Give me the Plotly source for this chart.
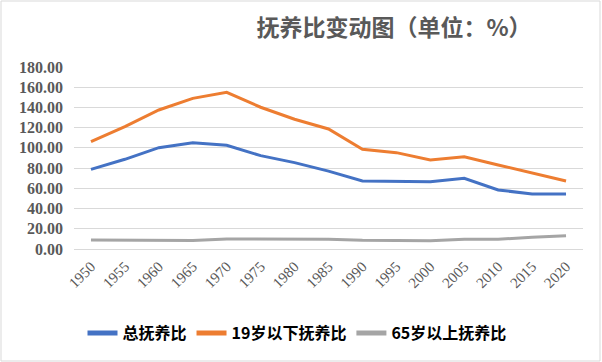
import plotly.graph_objects as go

years = ["1950", "1955", "1960", "1965", "1970", "1975", "1980", "1985",
         "1990", "1995", "2000", "2005", "2010", "2015", "2020"]
total_ratio = [78.8, 88.7, 100.2, 105.1, 102.6, 92.3, 85.4, 77.0,
               67.3, 67.0, 66.6, 70.0, 58.4, 54.4, 54.4]
young_ratio = [106.1, 121.0, 137.5, 149.0, 155.0, 140.2, 128.3, 118.7,
               98.6, 95.3, 88.0, 91.3, 83.1, 74.9, 67.3]
old_ratio = [8.9, 8.7, 8.5, 8.3, 9.9, 9.7, 9.4, 9.7,
             8.6, 8.2, 8.2, 9.7, 9.6, 11.5, 13.2]
series_names = ["总抚养比", "19岁以下抚养比", "65岁以上抚养比"]
series_colors = ["#4472C4", "#ED7D31", "#A5A5A5"]
y_ticks = [0, 20, 40, 60, 80, 100, 120, 140, 160, 180]

fig = go.Figure()
for name, vals, col in zip(series_names, [total_ratio, young_ratio, old_ratio], series_colors):
    fig.add_trace(go.Scatter(x=years, y=vals, name=name, mode="lines",
                             line=dict(color=col, width=3)))

W, H = 602, 362
ml, mr, mt, mb = 74, 19, 67, 113
pw, ph = W - ml - mr, H - mt - mb

fig.update_layout(
    width=W, height=H,
    margin=dict(l=ml, r=mr, t=mt, b=mb, pad=0),
    paper_bgcolor="white", plot_bgcolor="white",
    title=dict(text="抚养比变动图（单位：%）", x=394 / W, xanchor="center",
               y=1 - 28 / H, yanchor="middle",
               font=dict(family="Noto Sans CJK SC", size=23, color="#595959", weight="bold")),
    showlegend=True,
    legend=dict(orientation="h", x=297 / W, xref="container", xanchor="center",
                y=1 - 333 / H, yref="container", yanchor="middle",
                font=dict(family="Noto Sans CJK SC", size=16, color="#000000", weight="bold"),
                itemwidth=30, tracegroupgap=0, itemsizing="constant"),
    xaxis=dict(type="category", range=[-0.5, len(years) - 0.5], showgrid=False,
               showline=False, ticks="", tickangle=-45, ticklabelstandoff=5,
               tickfont=dict(family="Liberation Serif", size=15, color="#595959")),
    yaxis=dict(range=[0, 180], tickvals=y_ticks, tickformat=".2f",
               showgrid=True, gridcolor="#D9D9D9", gridwidth=1, zeroline=True,
               zerolinecolor="#D9D9D9", zerolinewidth=1, showline=False, ticks="",
               ticklabelstandoff=10,
               tickfont=dict(family="Liberation Serif", size=16, color="#595959", weight="bold")),
)

# outer chart border
fig.add_shape(type="rect", xref="paper", yref="paper",
              x0=(1 - ml) / pw, x1=(600 - ml) / pw,
              y0=(H - 361 - mb) / ph, y1=(H - 1 - mb) / ph,
              line=dict(color="#D9D9D9", width=1), fillcolor="rgba(0,0,0,0)", layer="below")

fig.write_html("out.html", config={"displayModeBar": False},
               post_script="document.body.style.margin='0';")
